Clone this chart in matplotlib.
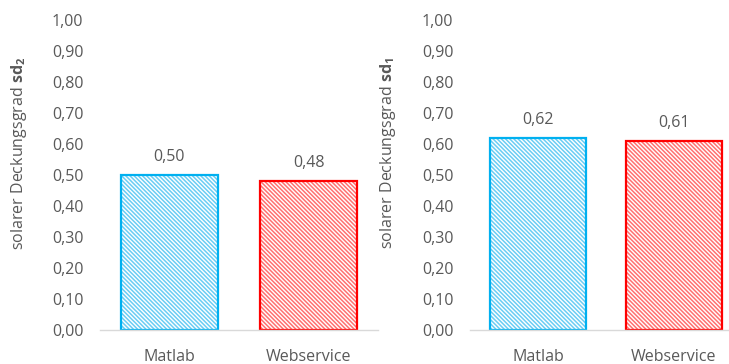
import matplotlib.pyplot as plt
import numpy as np

# data
categories = ['Matlab', 'Webservice']
sd2_values = [0.50, 0.48]
sd1_values = [0.62, 0.61]
edge_colors = ['#00B0F0', '#FF0000']
hatch_colors = ['#6ACDF4', '#FF7070']
yticks = np.arange(0, 1.01, 0.1)

plt.rcParams['font.family'] = ['Open Sans', 'DejaVu Sans']
plt.rcParams['mathtext.fontset'] = 'custom'
plt.rcParams['mathtext.rm'] = 'Open Sans'
plt.rcParams['mathtext.bf'] = 'Open Sans:bold'
plt.rcParams['hatch.linewidth'] = 1.1

text_col = '#595959'

fig = plt.figure(figsize=(7.29, 3.64), dpi=100)
ax1 = fig.add_axes([100 / 729, 34 / 364, 278 / 729, 310 / 364])
ax2 = fig.add_axes([470 / 729, 34 / 364, 272 / 729, 310 / 364])


def draw_panel(ax, values, label):
    x = np.arange(len(categories))
    for i, v in enumerate(values):
        # hatched fill
        ax.bar(x[i], v, width=0.7, color='white', edgecolor=hatch_colors[i],
               hatch='\\' * 8, linewidth=0)
        # solid outline
        ax.bar(x[i], v, width=0.7, fill=False, edgecolor=edge_colors[i],
               linewidth=1.6)
        ax.annotate(f'{v:.2f}'.replace('.', ','), (x[i], v),
                    xytext=(0, 7), textcoords='offset points',
                    ha='center', va='bottom', fontsize=11.5, color=text_col)
    ax.set_xlim(-0.5, len(categories) - 0.5)
    ax.set_ylim(0, 1.0)
    ax.set_yticks(yticks)
    ax.set_yticklabels([f'{t:.2f}'.replace('.', ',') for t in yticks])
    ax.set_xticks(x)
    ax.set_xticklabels(categories)
    ax.tick_params(axis='y', length=0, pad=12, labelsize=11.5, labelcolor=text_col)
    ax.tick_params(axis='x', length=0, pad=14, labelsize=11.5, labelcolor=text_col)
    for s in ['top', 'right', 'left']:
        ax.spines[s].set_visible(False)
    ax.spines['bottom'].set_color('#D9D9D9')
    ax.spines['bottom'].set_linewidth(1.0)
    ax.set_ylabel(label, fontsize=11.5, color=text_col)


draw_panel(ax1, sd2_values, r'solarer Deckungsgrad $\mathbf{sd_2}$')
draw_panel(ax2, sd1_values, r'solarer Deckungsgrad $\mathbf{sd_1}$')
ax1.yaxis.set_label_coords(-0.255, 0.57)
ax2.yaxis.set_label_coords(-0.265, 0.57)

fig.savefig('out.png', dpi=100)
